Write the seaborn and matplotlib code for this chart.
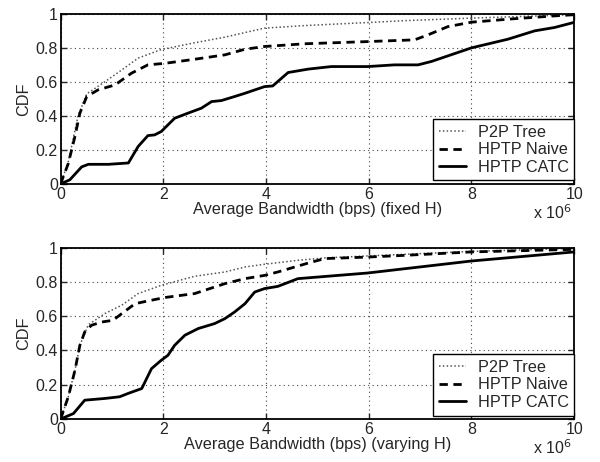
import matplotlib
matplotlib.use("Agg")
import matplotlib.pyplot as plt
import seaborn as sns
import pandas as pd

# ---- data (x in units of 1e6 bps) ----
top_p2p_x = [0, 0.15, 0.34, 0.51, 0.86, 1.19, 1.51, 1.96, 2.61, 3.2, 3.59, 3.97, 4.75, 5.98, 6.7, 8.0, 9.0, 10]
top_p2p_y = [0, 0.13, 0.40, 0.53, 0.60, 0.67, 0.74, 0.79, 0.83, 0.863, 0.89, 0.916, 0.931, 0.949, 0.96, 0.975, 0.985, 0.995]

top_naive_x = [0, 0.15, 0.28, 0.375, 0.51, 0.73, 1.06, 1.38, 1.70, 2.03, 2.61, 3.2, 3.59, 3.97, 4.75, 5.98, 6.89, 7.15, 7.54, 8.0, 8.77, 9.62, 10]
top_naive_y = [0, 0.12, 0.28, 0.416, 0.514, 0.553, 0.582, 0.651, 0.70, 0.709, 0.733, 0.759, 0.792, 0.808, 0.824, 0.837, 0.847, 0.876, 0.925, 0.951, 0.97, 0.988, 0.995]

top_catc_x = [0, 0.18, 0.41, 0.54, 0.93, 1.32, 1.51, 1.70, 1.83, 1.96, 2.22, 2.48, 2.74, 2.94, 3.13, 3.39, 3.59, 3.97, 4.13, 4.43, 4.82, 5.27, 5.98, 6.5, 6.96, 7.22, 8.0, 8.71, 9.23, 9.62, 10]
top_catc_y = [0, 0.024, 0.10, 0.115, 0.115, 0.123, 0.22, 0.284, 0.288, 0.308, 0.386, 0.416, 0.445, 0.484, 0.49, 0.514, 0.533, 0.572, 0.576, 0.655, 0.675, 0.69, 0.69, 0.70, 0.70, 0.72, 0.80, 0.851, 0.90, 0.92, 0.95]

bot_p2p_x = [0, 0.15, 0.28, 0.375, 0.54, 0.86, 1.19, 1.51, 1.96, 2.61, 3.2, 3.59, 3.97, 4.62, 5.14, 6.0, 7.0, 8.0, 9.0, 10]
bot_p2p_y = [0, 0.13, 0.285, 0.43, 0.55, 0.615, 0.664, 0.732, 0.78, 0.833, 0.858, 0.887, 0.903, 0.926, 0.94, 0.952, 0.965, 0.978, 0.987, 0.996]

bot_naive_x = [0, 0.15, 0.28, 0.375, 0.47, 0.6, 0.8, 1.02, 1.19, 1.45, 1.70, 2.03, 2.61, 3.2, 3.59, 3.97, 4.23, 4.82, 5.14, 5.98, 6.7, 8.0, 10]
bot_naive_y = [0, 0.13, 0.285, 0.43, 0.508, 0.547, 0.566, 0.576, 0.615, 0.673, 0.689, 0.709, 0.732, 0.79, 0.819, 0.838, 0.858, 0.91, 0.936, 0.945, 0.955, 0.975, 0.99]

bot_catc_x = [0, 0.25, 0.47, 0.86, 1.15, 1.32, 1.58, 1.77, 1.96, 2.09, 2.22, 2.42, 2.68, 3.0, 3.2, 3.39, 3.59, 3.78, 3.97, 4.23, 4.62, 5.98, 6.7, 8.0, 10]
bot_catc_y = [0, 0.032, 0.11, 0.12, 0.13, 0.15, 0.178, 0.294, 0.343, 0.372, 0.43, 0.489, 0.528, 0.557, 0.586, 0.625, 0.673, 0.741, 0.761, 0.774, 0.819, 0.852, 0.877, 0.922, 0.975]

series_names = ["P2P Tree", "HPTP Naive", "HPTP CATC"]
x_ticks = [0, 2, 4, 6, 8, 10]
y_ticks = [0, 0.2, 0.4, 0.6, 0.8, 1]
y_ticklabels = ["0", "0.2", "0.4", "0.6", "0.8", "1"]
xlabels = ["Average Bandwidth (bps) (fixed H)", "Average Bandwidth (bps) (varying H)"]

sns.set_style("ticks")
plt.rcParams["font.family"] = ["Liberation Sans", "DejaVu Sans"]
plt.rcParams["font.size"] = 11.5
plt.rcParams["xtick.direction"] = "in"
plt.rcParams["ytick.direction"] = "in"

fig = plt.figure(figsize=(6, 4.62), dpi=100)
ax_top = fig.add_axes([0.101, 0.602, 0.856, 0.368])
ax_bot = fig.add_axes([0.101, 0.093, 0.856, 0.371])

styles = {
    "P2P Tree": dict(color="#555555", linestyle=(0, (1, 1.5)), linewidth=1.1),
    "HPTP Naive": dict(color="black", linestyle=(0, (3, 2)), linewidth=2.0),
    "HPTP CATC": dict(color="black", linestyle="-", linewidth=2.0),
}

panels = [
    (ax_top, [(top_p2p_x, top_p2p_y), (top_naive_x, top_naive_y), (top_catc_x, top_catc_y)], xlabels[0]),
    (ax_bot, [(bot_p2p_x, bot_p2p_y), (bot_naive_x, bot_naive_y), (bot_catc_x, bot_catc_y)], xlabels[1]),
]

for ax, data, xl in panels:
    for name, (xs, ys) in zip(series_names, data):
        df = pd.DataFrame({"x": xs, "y": ys})
        sns.lineplot(data=df, x="x", y="y", ax=ax, label=name, sort=False, **styles[name])
    ax.set_xlim(0, 10)
    ax.set_ylim(0, 1)
    ax.set_xticks(x_ticks)
    ax.set_xticklabels([str(t) for t in x_ticks])
    ax.set_yticks(y_ticks)
    ax.set_yticklabels(y_ticklabels)
    ax.grid(True, color="#444444", linestyle=(0, (1, 3)), linewidth=0.8)
    ax.tick_params(top=True, right=True, length=4, width=1, labelsize=11.5, pad=2)
    for sp in ax.spines.values():
        sp.set_linewidth(1.3)
        sp.set_color("black")
    ax.set_xlabel(xl, fontsize=11.7, labelpad=0)
    ax.set_ylabel("CDF", fontsize=11.7, labelpad=3)
    leg = ax.legend(loc="lower right", bbox_to_anchor=(1.0, 0.02), borderaxespad=0,
                    fancybox=False, framealpha=1, edgecolor="black", fontsize=11.7,
                    handlelength=1.7, labelspacing=0.15, borderpad=0.35, handletextpad=0.7)
    leg.get_frame().set_linewidth(1.0)
    ax.annotate(r"x 10$^{6}$", xy=(1.0, 0), xycoords="axes fraction",
                xytext=(-2, -38), textcoords="offset pixels",
                ha="right", va="bottom", fontsize=11.5)

fig.savefig("out.png", dpi=100)
